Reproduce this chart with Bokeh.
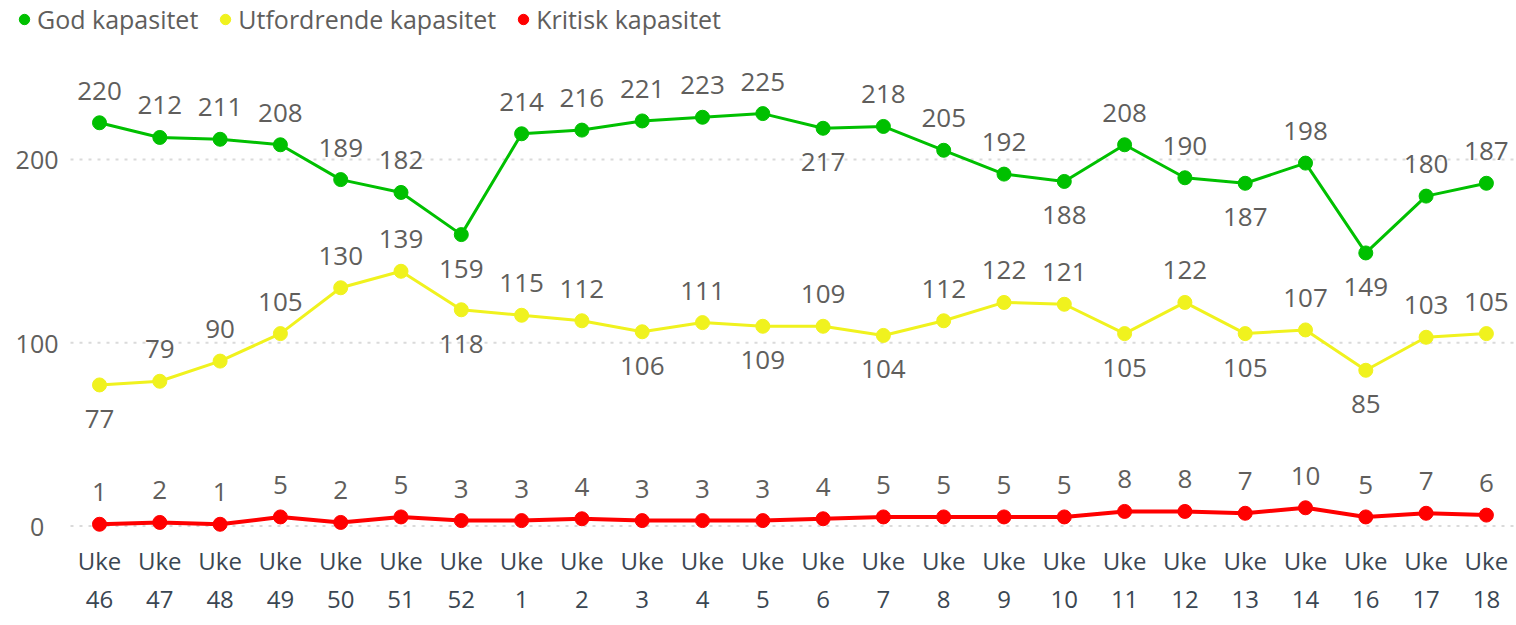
from bokeh.plotting import figure
from bokeh.models import Range1d, FixedTicker, Legend, LegendItem, ColumnDataSource
from bokeh.embed import file_html
from bokeh.resources import INLINE
from bokeh.core.properties import value

weeks = ["46", "47", "48", "49", "50", "51", "52", "1", "2", "3", "4", "5", "6", "7",
         "8", "9", "10", "11", "12", "13", "14", "16", "17", "18"]
god = [220, 212, 211, 208, 189, 182, 159, 214, 216, 221, 223, 225, 217, 218, 205, 192,
       188, 208, 190, 187, 198, 149, 180, 187]
utfordrende = [77, 79, 90, 105, 130, 139, 118, 115, 112, 106, 111, 109, 109, 104, 112, 122,
               121, 105, 122, 105, 107, 85, 103, 105]
kritisk = [1, 2, 1, 5, 2, 5, 3, 3, 4, 3, 3, 3, 4, 5, 5, 5, 5, 8, 8, 7, 10, 5, 7, 6]
series_names = ["God kapasitet", "Utfordrende kapasitet", "Kritisk kapasitet"]
y_ticks = [0, 100, 200]

# indices whose data label sits below the point
god_below = [6, 12, 16, 19, 21]
utf_below = [0, 6, 9, 11, 13, 17, 19, 21]
krit_below = []

colors = ["#00C000", "#F0F21E", "#FF0000"]
FONT = "Open Sans"
LABEL_GREY = "#605E5C"

W, H = 1516, 625
bottom = 84
px_per_unit = 1.8333
zero_px = 525.6
spacing = 60.3
first_px = 99
grid_left_px = 70
frame_w = W
frame_h = H - bottom
x0 = -first_px / spacing
x1 = x0 + frame_w / spacing
y1 = zero_px / px_per_unit
y0 = y1 - frame_h / px_per_unit

p = figure(width=W, height=H, x_range=Range1d(x0, x1), y_range=Range1d(y0, y1),
           output_backend="svg", toolbar_location=None,
           min_border_left=0, min_border_right=0,
           min_border_top=0, min_border_bottom=bottom)
p.outline_line_color = None
p.background_fill_color = "white"
p.border_fill_color = "white"

xs = list(range(len(weeks)))

# axes
p.xaxis.ticker = FixedTicker(ticks=xs)
p.xaxis.major_label_overrides = {i: "Uke\n" + w for i, w in enumerate(weeks)}
p.xaxis.axis_line_color = None
p.xaxis.major_tick_line_color = None
p.xaxis.minor_tick_line_color = None
p.xaxis.major_tick_out = 0
p.xaxis.major_label_standoff = 2
p.xaxis.major_label_text_font = FONT
p.xaxis.major_label_text_font_size = "24px"
p.xaxis.major_label_text_color = "#3A4652"
p.xaxis.major_label_text_line_height = 1.16

p.yaxis.ticker = FixedTicker(ticks=y_ticks)
p.yaxis.major_label_overrides = {0: "0\u2007"}
p.yaxis.axis_line_color = None
p.yaxis.major_tick_line_color = None
p.yaxis.minor_tick_line_color = None
p.yaxis.major_tick_out = 0
p.yaxis.major_label_standoff = -58
p.yaxis.major_label_text_font = FONT
p.yaxis.major_label_text_font_size = "25px"
p.yaxis.major_label_text_color = LABEL_GREY

# dotted horizontal gridlines, starting right of the value labels
p.xgrid.visible = False
p.ygrid.visible = False
gx0 = (grid_left_px - first_px) / spacing
p.segment(x0=[gx0] * len(y_ticks), y0=y_ticks, x1=[x1] * len(y_ticks), y1=y_ticks,
          line_color="#DADADA", line_width=2, line_dash="3 6")

legend_items = []
for name, vals, below, col, lw in zip(series_names, [god, utfordrende, kritisk],
                                       [god_below, utf_below, krit_below], colors, [3, 3, 4]):
    src = ColumnDataSource(dict(
        x=xs, y=vals, txt=[str(v) for v in vals],
        off=[34 if i in below else -32 for i in xs]))
    p.line("x", "y", source=src, color=col, line_width=lw)
    r = p.scatter("x", "y", source=src, size=14, color=col)
    p.text("x", "y", text="txt", y_offset="off", source=src,
           text_font=value(FONT), text_font_size="26px", text_color=LABEL_GREY,
           text_align="center", text_baseline="middle")
    legend_items.append(LegendItem(label=name, renderers=[r]))

legend = Legend(items=legend_items, orientation="horizontal",
                location=(11, frame_h - 36),
                glyph_width=26, glyph_height=26, label_height=26,
                label_standoff=0, spacing=14, padding=0, margin=0,
                label_text_font=FONT, label_text_font_size="25px",
                label_text_color=LABEL_GREY, border_line_color=None,
                background_fill_alpha=0)
p.add_layout(legend, "center")

open("out.html", "w").write(file_html(p, INLINE))
